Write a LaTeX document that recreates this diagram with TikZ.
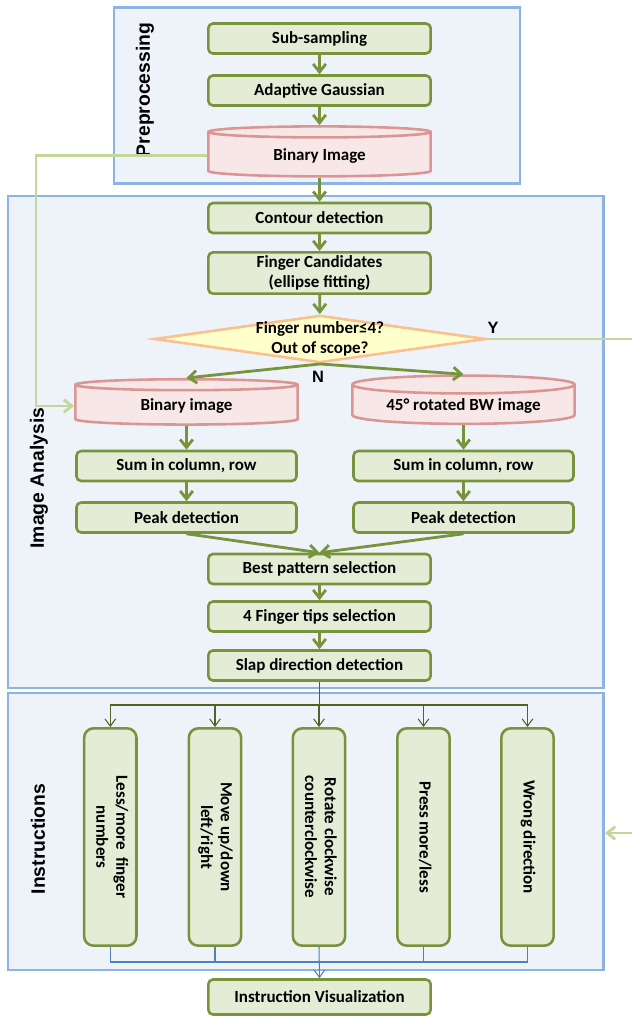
\documentclass[tikz,border=0pt]{standalone}
\usepackage{fontspec}
\setmainfont{Carlito}
\newfontfamily\secfont{Liberation Sans}
\usetikzlibrary{arrows.meta}
\usetikzlibrary{shapes.geometric}
\definecolor{panelblue}{RGB}{238,243,250}
\definecolor{paneledge}{RGB}{141,179,226}
\definecolor{stepgreen}{RGB}{119,147,60}
\definecolor{stepfill}{RGB}{228,236,214}
\definecolor{diskpink}{RGB}{247,231,231}
\definecolor{diskedge}{RGB}{217,150,148}
\definecolor{testfill}{RGB}{255,255,204}
\definecolor{testedge}{RGB}{250,192,144}
\definecolor{loopgreen}{RGB}{195,214,155}
\definecolor{forkgreen}{RGB}{79,98,40}
\definecolor{joinblue}{RGB}{79,129,189}
\newcommand{\drawinstr}[3]{
  \node[tallbox] (#1) at (#2,83.7) {\rotatebox{-90}{\begin{tabular}{@{}c@{}}#3\end{tabular}}};
}

\begin{document}
\begin{tikzpicture}[x=0.3cm,y=-0.3cm,
    every node/.style={font=\bfseries\fontsize{14.5}{17}\selectfont},
    panel/.style={draw=paneledge,fill=panelblue,line width=2.4pt},
    stepbox/.style={draw=stepgreen,fill=stepfill,line width=2.2pt,rounded corners=4pt,
      minimum width=6.67cm,minimum height=0.9cm,align=center,inner sep=1pt},
    sidebox/.style={stepbox,minimum width=6.6cm},
    tallbox/.style={stepbox,rounded corners=8pt,minimum width=1.57cm,minimum height=6.52cm},
    disk/.style={cylinder,shape border rotate=90,aspect=0.11,draw=diskedge,fill=diskpink,
      line width=2.2pt,minimum width=6.67cm,minimum height=1.5cm},
    test/.style={diamond,draw=testedge,fill=testfill,line width=2.2pt,
      minimum width=9.95cm,minimum height=1.42cm,inner sep=0pt},
    flow/.style={draw=stepgreen,line width=2.4pt,-{Straight Barb[length=2.4mm,width=3.8mm]}},
    loopback/.style={draw=loopgreen,line width=2.4pt},
    forkline/.style={draw=forkgreen,line width=0.9pt},
    joinline/.style={draw=joinblue,line width=0.9pt},
    seclabel/.style={rotate=90,font=\secfont\bfseries\fontsize{16.5}{18}\selectfont}]
  \useasboundingbox (0,0) rectangle (63.2,101.9);

  % stage panels
  \draw[panel] (11.4,0.75) rectangle (52.0,18.35);
  \draw[panel] (0.8,19.6) rectangle (60.35,68.8);
  \draw[panel] (0.8,69.3) rectangle (60.35,97.0);
  \node[seclabel] (prep) at (14.5,9.0) {Preprocessing};
  \node[seclabel] (anal) at (3.9,47.8) {Image Analysis};
  \node[seclabel] (instr) at (3.8,83.9) {Instructions};

  % preprocessing
  \node[stepbox] (subsamp) at (31.95,3.85) {Sub-sampling};
  \node[stepbox] (gauss) at (31.95,9.05) {Adaptive Gaussian};
  \node[disk] (binimg) at (31.95,15.55) {Binary Image};
  \draw[flow] (subsamp) -- (gauss);
  \draw[flow] (gauss) -- (binimg);

  % image analysis
  \node[stepbox] (contour) at (31.95,21.8) {Contour detection};
  \node[stepbox,minimum height=1.24cm] (candid) at (31.95,27.3) {Finger Candidates\\(ellipse fitting)};
  \node[test] (check) at (32.0,33.9) {};
  \node[align=center] (checktxt) at (check) {Finger number≤4?\\Out of scope?};
  \node[font=\secfont\bfseries\fontsize{14}{17}\selectfont] (yes) at (49.3,32.8) {Y};
  \node[font=\secfont\bfseries\fontsize{14}{17}\selectfont] (no) at (31.8,37.7) {N};
  \draw[flow] (binimg) -- (contour);
  \draw[flow] (contour) -- (candid);
  \draw[flow] (candid) -- (check);

  \node[disk,minimum height=1.36cm] (binL) at (18.65,40.6) {Binary image};
  \node[disk,minimum height=1.36cm] (rotBW) at (46.35,40.6) {45° rotated BW image};
  \node[sidebox] (sumL) at (18.65,46.6) {Sum in column, row};
  \node[sidebox] (sumR) at (46.35,46.6) {Sum in column, row};
  \node[sidebox] (peakL) at (18.65,51.75) {Peak detection};
  \node[sidebox] (peakR) at (46.35,51.75) {Peak detection};
  \draw[flow] (check.south) -- (binL.north);
  \draw[flow] (check.south) -- (rotBW.north);
  \draw[flow] (binL) -- (sumL);
  \draw[flow] (rotBW) -- (sumR);
  \draw[flow] (sumL) -- (peakL);
  \draw[flow] (sumR) -- (peakR);

  \node[stepbox] (pattern) at (31.95,56.9) {Best pattern selection};
  \node[stepbox] (tips) at (31.95,61.65) {4 Finger tips selection};
  \node[stepbox] (slap) at (31.95,66.55) {Slap direction detection};
  \draw[flow] (peakL.south) -- (pattern.north);
  \draw[flow] (peakR.south) -- (pattern.north);
  \draw[flow] (pattern) -- (tips);
  \draw[flow] (tips) -- (slap);

  % loops back
  \coordinate (loopturn) at (3.6,15.25);
  \coordinate (outY) at (63.2,33.9);
  \coordinate (backin) at (63.2,83.3);
  \coordinate (instredge) at (60.5,83.3);
  \draw[loopback,-{Straight Barb[length=2.4mm,width=3.8mm]}] (binimg.west) -- (binimg.west -| loopturn) |- (binL.west);
  \draw[loopback] (check.east) -- (outY);
  \draw[loopback,-{Straight Barb[length=2.4mm,width=3.8mm]}] (backin) -- (instredge);

  % instructions
  \drawinstr{less}{11.03}{Less/more\ \ finger\\numbers}
  \drawinstr{move}{21.5}{Move up/down\\left/right}
  \drawinstr{turn}{31.9}{Rotate clockwise\\counterclockwise}
  \drawinstr{press}{42.35}{Press more/less}
  \drawinstr{wrong}{52.75}{Wrong direction}
  \node[stepbox,minimum height=1.05cm] (visual) at (31.95,99.7) {Instruction Visualization};

  \coordinate (fork) at (31.95,70.5);
  \draw[forkline] (slap) -- (fork);
  \draw[forkline] (less.north |- fork) -- (wrong.north |- fork);
  \foreach \n in {less,move,turn,press,wrong}
    \draw[forkline,-{Straight Barb[length=2.2mm,width=3.2mm]}] (\n.north |- fork) -- (\n.north);

  \coordinate (merge) at (31.95,96.2);
  \foreach \n in {less,move,press,wrong}
    \draw[joinline] (\n.south) -- (\n.south |- merge);
  \draw[joinline] (less.south |- merge) -- (wrong.south |- merge);
  \draw[joinline,-{Straight Barb[length=2.2mm,width=3.2mm]}] (turn.south) -- (visual.north);
\end{tikzpicture}
\end{document}
